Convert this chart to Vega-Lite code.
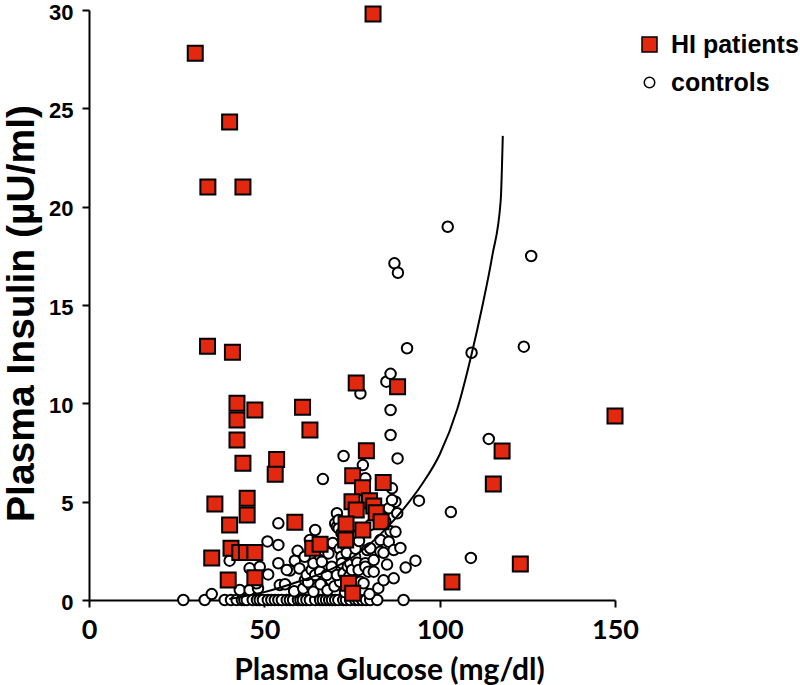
{
  "$schema": "https://vega.github.io/schema/vega-lite/v6.json",
  "width": 526,
  "height": 590,
  "autosize": {"type": "none"},
  "padding": {"left": 89, "top": 10, "right": 185, "bottom": 85},
  "background": "white",
  "config": {"view": {"stroke": null}},
  "datasets": {
    "pts": [
      {"g":"controls","x":26.9,"y":0},{"g":"controls","x":33.0,"y":0},{"g":"controls","x":35.0,"y":0.3},{"g":"controls","x":38.7,"y":0},{"g":"controls","x":40.5,"y":0},{"g":"controls","x":42.1,"y":0},{"g":"controls","x":43.6,"y":0},{"g":"controls","x":44.3,"y":0},{"g":"controls","x":45.0,"y":0},{"g":"controls","x":46.7,"y":0},{"g":"controls","x":47.9,"y":0},{"g":"controls","x":48.7,"y":0},{"g":"controls","x":49.6,"y":0},{"g":"controls","x":51.0,"y":0},{"g":"controls","x":52.0,"y":0},{"g":"controls","x":53.0,"y":0},{"g":"controls","x":54.0,"y":0},{"g":"controls","x":55.0,"y":0},{"g":"controls","x":56.4,"y":0},{"g":"controls","x":57.3,"y":0},{"g":"controls","x":58.2,"y":0},{"g":"controls","x":59.6,"y":0},{"g":"controls","x":60.3,"y":0},{"g":"controls","x":61.0,"y":0},{"g":"controls","x":62.0,"y":0},{"g":"controls","x":63.0,"y":0},{"g":"controls","x":64.5,"y":0},{"g":"controls","x":65.9,"y":0},{"g":"controls","x":66.7,"y":0},{"g":"controls","x":67.6,"y":0},{"g":"controls","x":68.5,"y":0},{"g":"controls","x":69.3,"y":0},{"g":"controls","x":70.2,"y":0},{"g":"controls","x":71.1,"y":0},{"g":"controls","x":72.5,"y":0},{"g":"controls","x":73.3,"y":0},{"g":"controls","x":74.5,"y":0},{"g":"controls","x":75.9,"y":0},{"g":"controls","x":76.8,"y":0},{"g":"controls","x":77.9,"y":0},{"g":"controls","x":79.0,"y":0},{"g":"controls","x":80.2,"y":0},{"g":"controls","x":82.2,"y":0},{"g":"controls","x":89.7,"y":0},
      {"g":"controls","x":43.0,"y":0.51},{"g":"controls","x":45.8,"y":0.51},{"g":"controls","x":48.2,"y":0.59},{"g":"controls","x":47.8,"y":0.85},{"g":"controls","x":54.4,"y":0.76},{"g":"controls","x":55.9,"y":0.8},{"g":"controls","x":58.5,"y":0.45},{"g":"controls","x":61.1,"y":0.59},{"g":"controls","x":63.5,"y":0.68},{"g":"controls","x":64.0,"y":0.42},{"g":"controls","x":61.6,"y":1.02},{"g":"controls","x":62.5,"y":0.9},{"g":"controls","x":66.0,"y":0.8},{"g":"controls","x":68.0,"y":0.5},{"g":"controls","x":69.0,"y":1.0},{"g":"controls","x":70.0,"y":0.7},{"g":"controls","x":71.6,"y":0.93},{"g":"controls","x":73.0,"y":0.4},{"g":"controls","x":75.0,"y":0.76},{"g":"controls","x":75.5,"y":1.0},{"g":"controls","x":77.4,"y":0.93},{"g":"controls","x":77.8,"y":0.51},{"g":"controls","x":78.3,"y":0.85},{"g":"controls","x":80.0,"y":0.3},{"g":"controls","x":82.5,"y":0.6},{"g":"controls","x":84.0,"y":1.0},{"g":"controls","x":86.9,"y":1.1},
      {"g":"controls","x":40.1,"y":2.0},{"g":"controls","x":45.8,"y":1.61},{"g":"controls","x":48.7,"y":1.69},{"g":"controls","x":51.1,"y":1.3},{"g":"controls","x":50.9,"y":2.98},{"g":"controls","x":54.0,"y":2.8},{"g":"controls","x":54.0,"y":3.9},{"g":"controls","x":54.0,"y":1.87},{"g":"controls","x":57.3,"y":1.5},{"g":"controls","x":58.7,"y":2.0},{"g":"controls","x":56.4,"y":1.53},{"g":"controls","x":59.5,"y":2.5},{"g":"controls","x":60.0,"y":1.6},{"g":"controls","x":61.5,"y":2.2},{"g":"controls","x":62.1,"y":1.27},{"g":"controls","x":63.0,"y":3.05},{"g":"controls","x":63.5,"y":1.53},{"g":"controls","x":64.0,"y":1.87},{"g":"controls","x":64.5,"y":1.27},{"g":"controls","x":64.5,"y":3.56},{"g":"controls","x":65.5,"y":2.9},{"g":"controls","x":65.9,"y":1.44},{"g":"controls","x":66.0,"y":2.2},{"g":"controls","x":66.4,"y":1.95},{"g":"controls","x":67.0,"y":2.5},{"g":"controls","x":67.8,"y":1.27},{"g":"controls","x":68.3,"y":2.37},{"g":"controls","x":69.2,"y":1.69},{"g":"controls","x":69.5,"y":2.9},{"g":"controls","x":70.2,"y":3.9},{"g":"controls","x":70.7,"y":1.27},{"g":"controls","x":70.7,"y":3.73},{"g":"controls","x":70.7,"y":4.41},{"g":"controls","x":71.2,"y":4.07},{"g":"controls","x":71.2,"y":3.64},{"g":"controls","x":71.5,"y":2.6},{"g":"controls","x":72.0,"y":3.4},{"g":"controls","x":72.0,"y":2.2},{"g":"controls","x":72.1,"y":1.87},{"g":"controls","x":72.5,"y":3.2},{"g":"controls","x":72.6,"y":1.36},{"g":"controls","x":73.0,"y":2.8},{"g":"controls","x":73.5,"y":2.4},{"g":"controls","x":73.8,"y":1.7},{"g":"controls","x":74.2,"y":1.2},{"g":"controls","x":74.5,"y":1.87},{"g":"controls","x":74.5,"y":2.96},{"g":"controls","x":75.0,"y":1.53},{"g":"controls","x":75.9,"y":2.2},{"g":"controls","x":76.0,"y":2.6},{"g":"controls","x":76.4,"y":3.3},{"g":"controls","x":76.5,"y":1.9},{"g":"controls","x":76.9,"y":1.53},{"g":"controls","x":77.0,"y":3.0},{"g":"controls","x":78.8,"y":1.87},{"g":"controls","x":78.8,"y":1.69},{"g":"controls","x":79.3,"y":2.54},{"g":"controls","x":79.7,"y":1.44},{"g":"controls","x":80.2,"y":2.63},{"g":"controls","x":80.2,"y":3.81},{"g":"controls","x":81.2,"y":2.03},{"g":"controls","x":81.2,"y":1.44},{"g":"controls","x":83.1,"y":3.05},{"g":"controls","x":83.1,"y":2.46},{"g":"controls","x":83.0,"y":4.3},{"g":"controls","x":84.0,"y":2.4},{"g":"controls","x":84.5,"y":4.0},{"g":"controls","x":85.0,"y":1.8},{"g":"controls","x":85.5,"y":2.96},{"g":"controls","x":85.5,"y":4.66},{"g":"controls","x":86.0,"y":3.5},{"g":"controls","x":86.9,"y":2.54},{"g":"controls","x":87.4,"y":3.47},{"g":"controls","x":87.4,"y":5.0},{"g":"controls","x":87.9,"y":4.41},{"g":"controls","x":86.4,"y":5.68},{"g":"controls","x":86.4,"y":5.08},{"g":"controls","x":88.8,"y":2.65},{"g":"controls","x":90.3,"y":1.65},{"g":"controls","x":93.1,"y":2.0},{"g":"controls","x":94.1,"y":5.05},
      {"g":"controls","x":66.7,"y":6.15},{"g":"controls","x":72.6,"y":7.32},{"g":"controls","x":78.1,"y":6.86},{"g":"controls","x":78.8,"y":6.19},{"g":"controls","x":88.0,"y":7.2},{"g":"controls","x":86.0,"y":8.39},{"g":"controls","x":86.0,"y":9.66},{"g":"controls","x":77.4,"y":10.5},{"g":"controls","x":84.8,"y":11.1},{"g":"controls","x":86.0,"y":11.5},{"g":"controls","x":90.7,"y":12.8},{"g":"controls","x":87.1,"y":17.12},{"g":"controls","x":88.1,"y":16.64},{"g":"controls","x":102.3,"y":18.98},{"g":"controls","x":126.1,"y":17.49},{"g":"controls","x":109.1,"y":12.57},{"g":"controls","x":124.0,"y":12.88},{"g":"controls","x":114.0,"y":8.19},{"g":"controls","x":103.2,"y":4.47},{"g":"controls","x":108.9,"y":2.14},
      {"g":"HI patients","x":30.3,"y":27.8},{"g":"HI patients","x":81.0,"y":29.8},{"g":"HI patients","x":40.1,"y":24.3},{"g":"HI patients","x":33.9,"y":21.0},{"g":"HI patients","x":43.9,"y":21.0},{"g":"HI patients","x":33.8,"y":12.9},{"g":"HI patients","x":40.9,"y":12.6},{"g":"HI patients","x":42.2,"y":10.0},{"g":"HI patients","x":42.2,"y":9.15},{"g":"HI patients","x":42.2,"y":8.13},{"g":"HI patients","x":47.3,"y":9.66},{"g":"HI patients","x":43.9,"y":6.95},{"g":"HI patients","x":53.5,"y":7.15},{"g":"HI patients","x":53.1,"y":6.4},{"g":"HI patients","x":35.9,"y":4.88},{"g":"HI patients","x":45.1,"y":5.17},{"g":"HI patients","x":45.1,"y":4.32},{"g":"HI patients","x":40.1,"y":3.81},{"g":"HI patients","x":58.7,"y":3.95},{"g":"HI patients","x":40.5,"y":2.63},{"g":"HI patients","x":43.0,"y":2.41},{"g":"HI patients","x":44.9,"y":2.42},{"g":"HI patients","x":47.3,"y":2.41},{"g":"HI patients","x":35.0,"y":2.14},{"g":"HI patients","x":39.7,"y":1.02},{"g":"HI patients","x":47.3,"y":1.13},{"g":"HI patients","x":60.9,"y":9.8},{"g":"HI patients","x":63.0,"y":8.64},{"g":"HI patients","x":76.2,"y":11.03},{"g":"HI patients","x":88.0,"y":10.84},{"g":"HI patients","x":79.1,"y":7.59},{"g":"HI patients","x":75.2,"y":6.32},{"g":"HI patients","x":83.9,"y":5.98},{"g":"HI patients","x":78.0,"y":5.71},{"g":"HI patients","x":75.0,"y":5.0},{"g":"HI patients","x":80.0,"y":5.05},{"g":"HI patients","x":76.2,"y":4.58},{"g":"HI patients","x":81.2,"y":4.78},{"g":"HI patients","x":81.9,"y":4.44},{"g":"HI patients","x":83.3,"y":3.98},{"g":"HI patients","x":73.3,"y":3.86},{"g":"HI patients","x":78.1,"y":3.56},{"g":"HI patients","x":73.2,"y":3.05},{"g":"HI patients","x":63.8,"y":2.63},{"g":"HI patients","x":65.9,"y":2.83},{"g":"HI patients","x":74.0,"y":0.85},{"g":"HI patients","x":75.2,"y":0.34},{"g":"HI patients","x":117.8,"y":7.57},{"g":"HI patients","x":115.3,"y":5.9},{"g":"HI patients","x":103.5,"y":0.92},{"g":"HI patients","x":123.0,"y":1.83},{"g":"HI patients","x":150.0,"y":9.35}
    ],
    "curve": [
      {"x":40,"y":0.05},{"x":50,"y":0.4},{"x":60,"y":0.95},{"x":70,"y":1.65},{"x":77,"y":2.4},{"x":84,"y":3.5},{"x":90,"y":4.7},{"x":95,"y":5.9},{"x":100,"y":7.4},{"x":105,"y":9.7},{"x":109.1,"y":12.5},{"x":112,"y":14.8},{"x":115,"y":17.5},{"x":117.4,"y":20.3},{"x":118.0,"y":23.6}
    ]
  },
  "layer": [
    {
      "data": {"name": "pts"},
      "mark": {"type": "point", "filled": true, "stroke": "black", "strokeWidth": 2, "opacity": 1},
      "encoding": {
        "x": {
          "field": "x", "type": "quantitative",
          "scale": {"domain": [0, 150], "nice": false, "zero": false},
          "axis": {
            "values": [0, 50, 100, 150], "grid": false,
            "domainColor": "black", "domainWidth": 2,
            "tickColor": "black", "tickWidth": 2, "tickSize": 7,
            "labelFont": "Lato", "labelFontWeight": "bold", "labelFontSize": 27, "labelColor": "black",
            "labelPadding": 10, "labelFlush": false, "labelOverlap": false,
            "title": "Plasma Glucose (mg/dl)",
            "titleFont": "Lato", "titleFontWeight": "bold", "titleFontSize": 30, "titleColor": "black",
            "titleX": 300, "titleY": 79, "titleBaseline": "alphabetic", "titleAlign": "center"
          }
        },
        "y": {
          "field": "y", "type": "quantitative",
          "scale": {"domain": [0, 30], "nice": false},
          "axis": {
            "values": [0, 5, 10, 15, 20, 25, 30], "grid": false,
            "domainColor": "black", "domainWidth": 2,
            "tickColor": "black", "tickWidth": 2, "tickSize": 7,
            "labelFont": "Liberation Sans", "labelFontWeight": "bold", "labelFontSize": 22, "labelColor": "black",
            "labelPadding": 9, "labelOffset": 2, "labelFlush": false, "labelOverlap": false,
            "title": "Plasma Insulin (µU/ml)",
            "titleFont": "Liberation Sans", "titleFontWeight": "bold", "titleFontSize": 39, "titleColor": "black",
            "titleAngle": -90, "titleX": -68, "titleY": 303, "titleBaseline": "middle", "titleAlign": "center"
          }
        },
        "shape": {
          "field": "g", "type": "nominal",
          "scale": {"domain": ["HI patients", "controls"], "range": ["square", "circle"]},
          "legend": {
            "title": null, "orient": "none", "legendX": 548, "legendY": 22, "padding": 0,
            "labelFont": "Liberation Sans", "labelFontWeight": "bold", "labelFontSize": 25, "labelColor": "black",
            "labelOffset": 9, "rowPadding": 12,
            "encode": {"symbols": {"update": {"stroke": {"value": "black"}, "strokeWidth": {"value": 2}}}, "labels": {"update": {"dy": {"value": 3}}}}
          }
        },
        "fill": {
          "field": "g", "type": "nominal",
          "scale": {"domain": ["HI patients", "controls"], "range": ["#e2290f", "white"]},
          "legend": {
            "title": null, "orient": "none", "legendX": 548, "legendY": 22, "padding": 0,
            "labelFont": "Liberation Sans", "labelFontWeight": "bold", "labelFontSize": 25, "labelColor": "black",
            "labelOffset": 9, "rowPadding": 12,
            "encode": {"symbols": {"update": {"stroke": {"value": "black"}, "strokeWidth": {"value": 2}}}, "labels": {"update": {"dy": {"value": 3}}}}
          }
        },
        "size": {
          "field": "g", "type": "nominal",
          "scale": {"domain": ["HI patients", "controls"], "range": [225, 110]},
          "legend": {
            "title": null, "orient": "none", "legendX": 548, "legendY": 22, "padding": 0,
            "labelFont": "Liberation Sans", "labelFontWeight": "bold", "labelFontSize": 25, "labelColor": "black",
            "labelOffset": 9, "rowPadding": 12,
            "encode": {"symbols": {"update": {"stroke": {"value": "black"}, "strokeWidth": {"value": 2}}}, "labels": {"update": {"dy": {"value": 3}}}}
          }
        }
      }
    },
    {
      "data": {"name": "curve"},
      "mark": {"type": "line", "color": "black", "strokeWidth": 2, "interpolate": "monotone"},
      "encoding": {
        "x": {"field": "x", "type": "quantitative"},
        "y": {"field": "y", "type": "quantitative"}
      }
    }
  ]
}
